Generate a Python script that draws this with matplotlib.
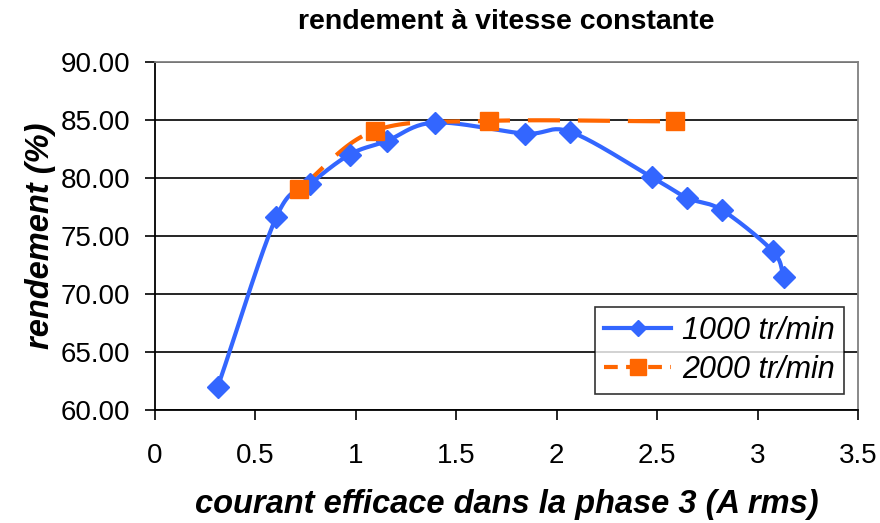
import numpy as np
import matplotlib.pyplot as plt

plt.rcParams['font.family'] = ['Liberation Sans', 'DejaVu Sans']

# courant efficace (A rms) et rendement (%)
courant_1000 = [0.313, 0.605, 0.771, 0.97, 1.153, 1.393, 1.841, 2.068, 2.476, 2.65, 2.824, 3.076, 3.131]
rendement_1000 = [62.0, 76.66, 79.46, 82.04, 83.2, 84.8, 83.85, 84.0, 80.06, 78.3, 77.24, 73.7, 71.5]

courant_2000 = [0.718, 1.095, 1.663, 2.59]
rendement_2000 = [79.1, 84.1, 84.94, 84.9]

y_ticks = [60, 65, 70, 75, 80, 85, 90]
x_ticks = [0, 0.5, 1, 1.5, 2, 2.5, 3, 3.5]


def smooth(x, y, n=24):
    """Catmull-Rom curve through the points (like a spreadsheet smoothed line)."""
    p = np.column_stack([x, y]).astype(float)
    p = np.vstack([2 * p[0] - p[1], p, 2 * p[-1] - p[-2]])
    out = []
    t = np.linspace(0, 1, n, endpoint=False)[:, None]
    for i in range(1, len(p) - 2):
        p0, p1, p2, p3 = p[i - 1], p[i], p[i + 1], p[i + 2]
        seg = 0.5 * ((2 * p1) + (-p0 + p2) * t + (2 * p0 - 5 * p1 + 4 * p2 - p3) * t ** 2
                     + (-p0 + 3 * p1 - 3 * p2 + p3) * t ** 3)
        out.append(seg)
    out.append(p[-2][None, :])
    out = np.vstack(out)
    return out[:, 0], out[:, 1]


blue = '#3366FF'
orange = '#FF6600'
lw = 3.0

fig = plt.figure(figsize=(8.8, 5.23), dpi=100)
ax = fig.add_axes([0.176, 0.216, 0.799, 0.665])

sx, sy = smooth(courant_1000, rendement_1000)
ax.plot(sx, sy, color=blue, lw=lw, zorder=3)
ax.plot(courant_1000, rendement_1000, ls='none', marker='D', ms=11, color=blue, zorder=4)

sx, sy = smooth(courant_2000, rendement_2000)
ax.plot(sx, sy, color=orange, lw=lw, dashes=(7.7, 4.3), zorder=3)
ax.plot(courant_2000, rendement_2000, ls='none', marker='s', ms=13, color=orange, zorder=4)

# legend handles combining line and marker
h1, = ax.plot([], [], color=blue, lw=lw, marker='D', ms=8, label='1000 tr/min')
h2, = ax.plot([], [], color=orange, lw=lw, dashes=(3.3, 2.0), marker='s', ms=12, label='2000 tr/min')

ax.set_xlim(0, 3.5)
ax.set_ylim(60, 90)
ax.set_xticks(x_ticks)
ax.set_xticklabels([f'{v:g}' for v in x_ticks])
ax.set_yticks(y_ticks)
ax.set_yticklabels([f'{v:.2f}' for v in y_ticks])
ax.tick_params(axis='both', labelsize=20, direction='out', length=7, width=1.2, color='black')
ax.tick_params(axis='x', pad=17)
ax.tick_params(axis='y', pad=11)

ax.yaxis.grid(True, color='black', lw=1.2)
ax.set_axisbelow(True)
for side in ('left', 'bottom'):
    ax.spines[side].set_color('black')
    ax.spines[side].set_linewidth(1.3)
for side in ('top', 'right'):
    ax.spines[side].set_color('#808080')
    ax.spines[side].set_linewidth(1.3)

ax.set_title('rendement à vitesse constante', fontsize=20.5, fontweight='bold', pad=24)
ax.set_xlabel('courant efficace dans la phase 3 (A rms)', fontsize=23.5,
              fontweight='bold', style='italic', labelpad=14)
ax.set_ylabel('rendement (%)', fontsize=23.5, fontweight='bold', style='italic', labelpad=3)

leg = ax.legend(handles=[h1, h2], loc='lower right', bbox_to_anchor=(0.98, 0.046),
                prop={'size': 22, 'style': 'italic'}, frameon=True,
                fancybox=False, edgecolor='black', handlelength=2.2,
                borderpad=0.3, labelspacing=0.3, handletextpad=0.35, borderaxespad=0)
leg.get_frame().set_linewidth(1.2)
leg.set_zorder(5)

fig.savefig('out.png', dpi=100)
